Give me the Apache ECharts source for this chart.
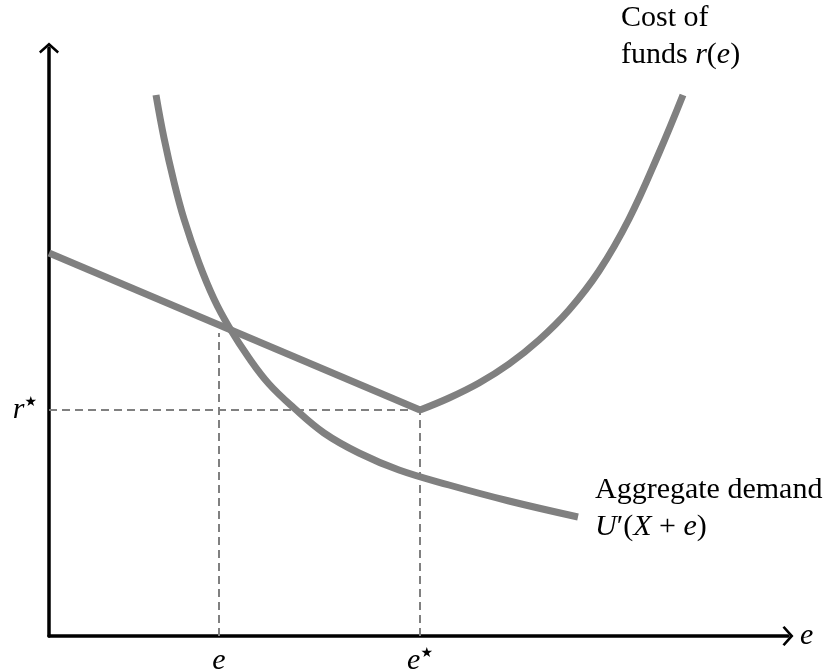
<!DOCTYPE html>
<html>
<head>
<meta charset="utf-8">
<script src="https://cdn.jsdelivr.net/npm/echarts@6/dist/echarts.min.js"></script>
<style>
  html, body { margin: 0; padding: 0; background: #fff; }
  #chart { width: 834px; height: 671px; }
</style>
</head>
<body>
<div id="chart"></div>
<script>
// values in chart units (effort e on x, rate on y)
const demandCurve = [[10.7, 54.1], [11.5, 49.8], [12.5, 45.4], [13.5, 41.7], [15, 37.3], [16.5, 33.7],
  [18, 30.9], [20, 27.8], [22, 25.2], [24.5, 22.8], [27.5, 20.3], [31, 18.3], [35, 16.6], [40, 15.1],
  [46, 13.5], [52.9, 11.9]]
const costLine = [[0, 38.3], [37.1, 22.6]]
const costCurve = [[37.1, 22.6], [40, 23.8], [43, 25.3], [46, 27.2], [49, 29.6], [52, 32.6], [55, 36.5],
  [58, 41.7], [61, 48.3], [63.4, 54.1]]
const rStar = 22.6
const eStar = 37.1
const eLow = 17.0
const eLowTop = 30.3
const xTicks = [eLow, eStar]
const yTicks = [rStar]

const gray = '#808080'
const serif = 'Liberation Serif'
const arrow = 'path://M10,0 L20,9 L18.4,11 L10,3.6 L1.6,11 L0,9 Z'
const rich = {
  i: { fontFamily: serif, fontStyle: 'italic', fontSize: 30, color: '#000' },
  u: { fontFamily: serif, fontSize: 30, color: '#000' },
  s: { fontFamily: 'DejaVu Sans', fontSize: 14, color: '#000', verticalAlign: 'top' }
}

const guide = (data) => ({
  type: 'line', data, showSymbol: false, silent: true, z: 1,
  lineStyle: { color: gray, width: 2, type: [8, 5] }
})
const curve = (data, smooth) => ({
  type: 'line', data, showSymbol: false, smooth, silent: true, z: 3,
  lineStyle: { color: gray, width: 7, cap: 'butt', join: 'miter' }
})

const chart = echarts.init(document.getElementById('chart'))
chart.setOption({
  animation: false,
  backgroundColor: '#fff',
  grid: { left: 49, top: 48, width: 739, height: 588, outerBoundsMode: 'none' },
  xAxis: {
    type: 'value', min: 0, max: 73.9,
    name: 'e', nameLocation: 'end', nameGap: 12,
    nameTextStyle: { fontFamily: serif, fontStyle: 'italic', fontSize: 30, color: '#000', padding: [0, 0, 2, 0] },
    axisLine: { lineStyle: { color: '#000', width: 3.5 }, symbol: ['none', arrow], symbolSize: [20, 11] },
    axisTick: { show: false },
    splitLine: { show: false },
    axisLabel: {
      customValues: xTicks, margin: 10,
      formatter: v => v === eStar ? '{i|e}{s|★}' : '{i|e}',
      rich
    }
  },
  yAxis: {
    type: 'value', min: 0, max: 58.8,
    axisLine: { lineStyle: { color: '#000', width: 3.5 }, symbol: ['none', arrow], symbolSize: [20, 11] },
    axisTick: { show: false },
    splitLine: { show: false },
    axisLabel: {
      customValues: yTicks, margin: 12,
      formatter: () => '{i|r}{s|★}',
      rich
    }
  },
  graphic: [
    {
      type: 'text', left: 621, top: 3,
      style: {
        text: '{u|Cost of}\n{u|funds }{i|r}{u|(}{i|e}{u|)}',
        rich: { i: { ...rich.i, lineHeight: 37 }, u: { ...rich.u, lineHeight: 37 } }
      }
    },
    {
      type: 'text', left: 595, top: 475,
      style: {
        text: '{u|Aggregate demand}\n{i|U}{u|′(}{i|X}{u| + }{i|e}{u|)}',
        rich: { i: { ...rich.i, lineHeight: 37 }, u: { ...rich.u, lineHeight: 37 } }
      }
    }
  ],
  series: [
    guide([[0, rStar], [eStar, rStar]]),
    guide([[eStar, 0], [eStar, rStar]]),
    guide([[eLow, 0], [eLow, eLowTop]]),
    curve(costLine, false),
    curve(costCurve, 0.4),
    curve(demandCurve, 0.4)
  ]
})
</script>
</body>
</html>
